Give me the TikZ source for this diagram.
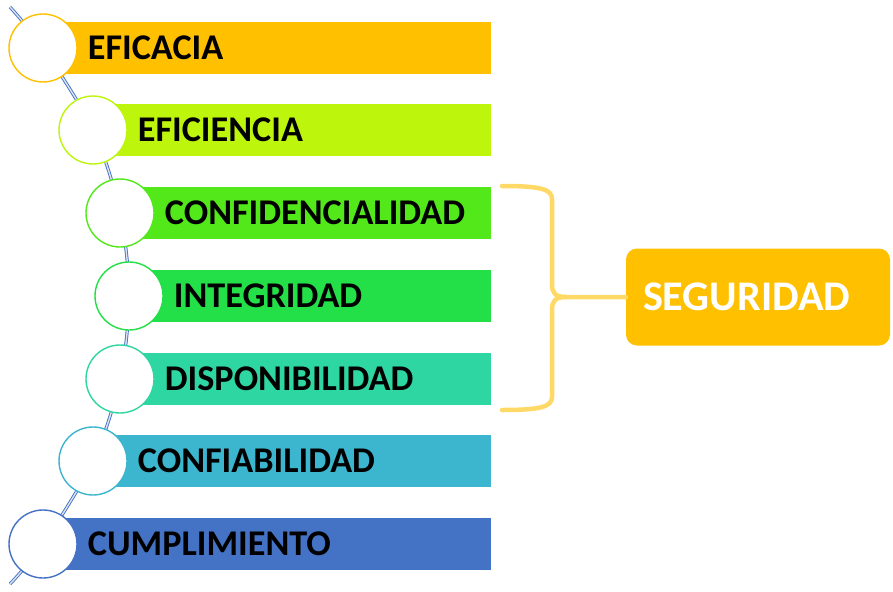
\documentclass[tikz,border=0pt]{standalone}
\usepackage{fontspec}
\setmainfont{Carlito}
\definecolor{cEficacia}{HTML}{FFC000}
\definecolor{cEficiencia}{HTML}{BDF50C}
\definecolor{cConfid}{HTML}{52E81A}
\definecolor{cIntegr}{HTML}{24E048}
\definecolor{cDispon}{HTML}{2ED6A1}
\definecolor{cConfiab}{HTML}{3BB6CE}
\definecolor{cCumpl}{HTML}{4472C4}
\definecolor{braceyellow}{HTML}{FFD966}
\usepackage{tikz}
\usetikzlibrary{positioning, calc}

\begin{document}
\begin{tikzpicture}[
  x=1pt, y=-1pt,
  bar/.style={anchor=west, minimum height=52pt, inner sep=0pt},
  ring/.style={circle, fill=white, line width=1.4pt, minimum size=68pt, inner sep=0pt},
  lbl/.style={inner sep=0pt, font=\fontsize{36.2}{40}\selectfont\bfseries},
  spine/.style={draw=cCumpl, double=cCumpl!20, line width=0.9pt, double distance=1.4pt},
  brace/.style={draw=braceyellow, line width=4.5pt, line cap=round, line join=round},
  segbox/.style={fill=cEficacia, rounded corners=11pt, minimum height=97pt,
                 text width=230pt, inner xsep=17pt, align=left, text=white,
                 font=\fontsize{42.2}{46}\selectfont\bfseries}
]
\useasboundingbox (0,0) rectangle (893,591);

% bands
\node[bar, fill=cEficacia, minimum width=448pt] (b1) at (43,48) {};
\node[bar, fill=cEficiencia, minimum width=398pt] (b2) at (93,130) {};
\node[bar, fill=cConfid, minimum width=371pt] (b3) at (120,213) {};
\node[bar, fill=cIntegr, minimum width=362pt] (b4) at (129,296) {};
\node[bar, fill=cDispon, minimum width=371pt] (b5) at (120,379) {};
\node[bar, fill=cConfiab, minimum width=398pt] (b6) at (93,461) {};
\node[bar, fill=cCumpl, minimum width=448pt] (b7) at (43,544) {};

% line through the circles
\coordinate (top) at (10,7);
\coordinate (bot) at (10,584);
\draw[spine] plot[smooth, tension=0.55] coordinates
  {(top) (b1.west) (b2.west) (b3.west) (b4.west) (b5.west) (b6.west) (b7.west) (bot)};

\node[ring, draw=cEficacia] (c1) at (b1.west) {};
\node[ring, draw=cEficiencia] (c2) at (b2.west) {};
\node[ring, draw=cConfid] (c3) at (b3.west) {};
\node[ring, draw=cIntegr] (c4) at (b4.west) {};
\node[ring, draw=cDispon] (c5) at (b5.west) {};
\node[ring, draw=cConfiab] (c6) at (b6.west) {};
\node[ring, draw=cCumpl] (c7) at (b7.west) {};

\node[lbl, right=10pt of c1] (l1) {EFICACIA};
\node[lbl, right=10pt of c2] (l2) {EFICIENCIA};
\node[lbl, right=10pt of c3] (l3) {CONFIDENCIALIDAD};
\node[lbl, right=10pt of c4] (l4) {INTEGRIDAD};
\node[lbl, right=10pt of c5] (l5) {DISPONIBILIDAD};
\node[lbl, right=10pt of c6] (l6) {CONFIABILIDAD};
\node[lbl, right=10pt of c7] (l7) {CUMPLIMIENTO};

% seguridad
\node[segbox] (seg) at (758,297) {SEGURIDAD};

\coordinate (bt) at (502,186);
\coordinate (bb) at (502,410);
\coordinate (tip) at (566,297);
\draw[brace] (bt) .. controls (540,186) and (552,189) .. (552,199) -- (552,284)
  .. controls (552,293) and (555,297) .. (tip) -- (seg.west);
\draw[brace] (bb) .. controls (540,410) and (552,407) .. (552,397) -- (552,310)
  .. controls (552,301) and (555,297) .. (tip);
\end{tikzpicture}
\end{document}
